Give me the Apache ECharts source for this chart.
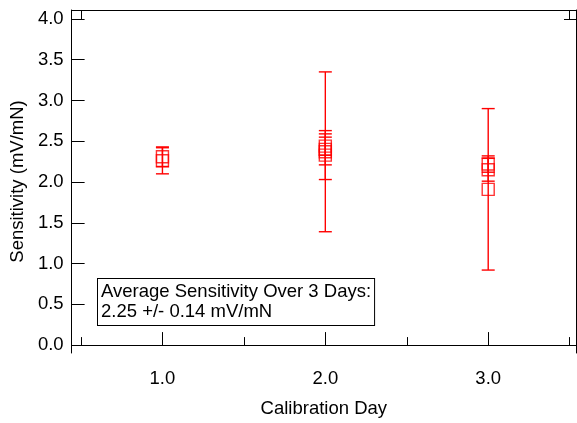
<!DOCTYPE html>
<html>
<head>
<meta charset="utf-8">
<script src="https://cdn.jsdelivr.net/npm/echarts@6/dist/echarts.min.js"></script>
<style>
html,body{margin:0;padding:0;background:#fff;}
#chart{width:577px;height:423px;}
</style>
</head>
<body>
<div id="chart"></div>
<script>
// Data
const days = [1, 1, 2, 2, 2, 2, 3, 3, 3];
const sensitivity = [2.31, 2.26, 2.37, 2.33, 2.40, 2.44, 2.22, 2.15, 1.91];
const errors = [0.12, 0.16, 0.98, 0.30, 0.19, 0.11, 0.10, 0.14, 0.99];
const xMajorTicks = [1, 2, 3];
const xMinorTicks = [0.5, 1.5, 2.5, 3.5];
const xEdgeTicks = [0.5, 3.5];
const yTicks = [0, 0.5, 1, 1.5, 2, 2.5, 3, 3.5, 4];
const yEdgeTicks = [0, 4];
const annotationLines = ['Average Sensitivity Over 3 Days:', '2.25 +/- 0.14 mV/mN'];

const FONT = 'Liberation Sans, Arial, sans-serif';
const FS = 18.5;
const RED = '#ff0000';
const X_MIN = 0.4424, X_MAX = 3.539;
const Y_MIN = -0.097, Y_MAX = 4.109;

const pts = days.map((d, i) => [d, sensitivity[i], errors[i]]);

const chart = echarts.init(document.getElementById('chart'));
const lineStyle = {color: '#000', width: 1};
const option = {
  animation: false,
  backgroundColor: '#fff',
  grid: {left: 65, top: 10, width: 511, height: 347, containLabel: false},
  xAxis: [
    {
      type: 'value', min: X_MIN, max: X_MAX, position: 'bottom',
      axisLine: {show: true, lineStyle},
      axisTick: {show: true, inside: true, length: 13, customValues: xMajorTicks, lineStyle},
      axisLabel: {show: true, customValues: xMajorTicks, formatter: v => v.toFixed(1), margin: 16,
        color: '#000', fontFamily: FONT, fontSize: FS},
      splitLine: {show: false},
      name: 'Calibration Day', nameLocation: 'middle', nameGap: 46,
      nameTextStyle: {color: '#000', fontFamily: FONT, fontSize: FS}
    },
    {
      type: 'value', min: X_MIN, max: X_MAX, position: 'bottom', offset: 0,
      axisLine: {show: false},
      axisTick: {show: true, inside: true, length: 8, customValues: xMinorTicks, lineStyle},
      axisLabel: {show: false}, splitLine: {show: false}
    },
    {
      type: 'value', min: X_MIN, max: X_MAX, position: 'top',
      axisLine: {show: true, lineStyle},
      axisTick: {show: true, inside: true, length: 9, customValues: xEdgeTicks, lineStyle},
      axisLabel: {show: false}, splitLine: {show: false}
    }
  ],
  yAxis: [
    {
      type: 'value', min: Y_MIN, max: Y_MAX, position: 'left',
      axisLine: {show: true, lineStyle},
      axisTick: {show: true, inside: true, length: 13, customValues: yTicks, lineStyle},
      axisLabel: {show: true, customValues: yTicks, formatter: v => v.toFixed(1), margin: 8,
        color: '#000', fontFamily: FONT, fontSize: FS},
      splitLine: {show: false},
      name: 'Sensitivity (mV/mN)', nameLocation: 'middle', nameGap: 39,
      nameTextStyle: {color: '#000', fontFamily: FONT, fontSize: FS}
    },
    {
      type: 'value', min: Y_MIN, max: Y_MAX, position: 'right',
      axisLine: {show: true, lineStyle},
      axisTick: {show: true, inside: true, length: 12, customValues: yEdgeTicks, lineStyle},
      axisLabel: {show: false}, splitLine: {show: false}
    }
  ],
  series: [
    {
      type: 'custom', xAxisIndex: 0, yAxisIndex: 0,
      data: pts,
      encode: {x: 0, y: 1},
      renderItem: function (params, api) {
        const x = api.value(0), y = api.value(1), e = api.value(2);
        const t = api.coord([x, y + e]);
        const b = api.coord([x, y - e]);
        const hw = 6.5;
        const st = {stroke: RED, lineWidth: 1.4};
        return {
          type: 'group',
          children: [
            {type: 'line', shape: {x1: t[0], y1: t[1], x2: b[0], y2: b[1]}, style: st},
            {type: 'line', shape: {x1: t[0] - hw, y1: t[1], x2: t[0] + hw, y2: t[1]}, style: st},
            {type: 'line', shape: {x1: b[0] - hw, y1: b[1], x2: b[0] + hw, y2: b[1]}, style: st}
          ]
        };
      }
    },
    {
      type: 'scatter', xAxisIndex: 0, yAxisIndex: 0,
      data: pts.map(p => [p[0], p[1]]),
      symbol: 'rect', symbolSize: 12,
      itemStyle: {color: 'rgba(0,0,0,0)', borderColor: RED, borderWidth: 1.4}
    }
  ],
  graphic: [
    {
      type: 'text', left: 97, top: 278,
      style: {
        text: annotationLines.join('\n'),
        font: FS + 'px ' + FONT, fill: '#000',
        lineHeight: 20,
        backgroundColor: '#fff', borderColor: '#000', borderWidth: 1,
        padding: [3, 3, 3, 3]
      }
    }
  ]
};
chart.setOption(option);
</script>
</body>
</html>
